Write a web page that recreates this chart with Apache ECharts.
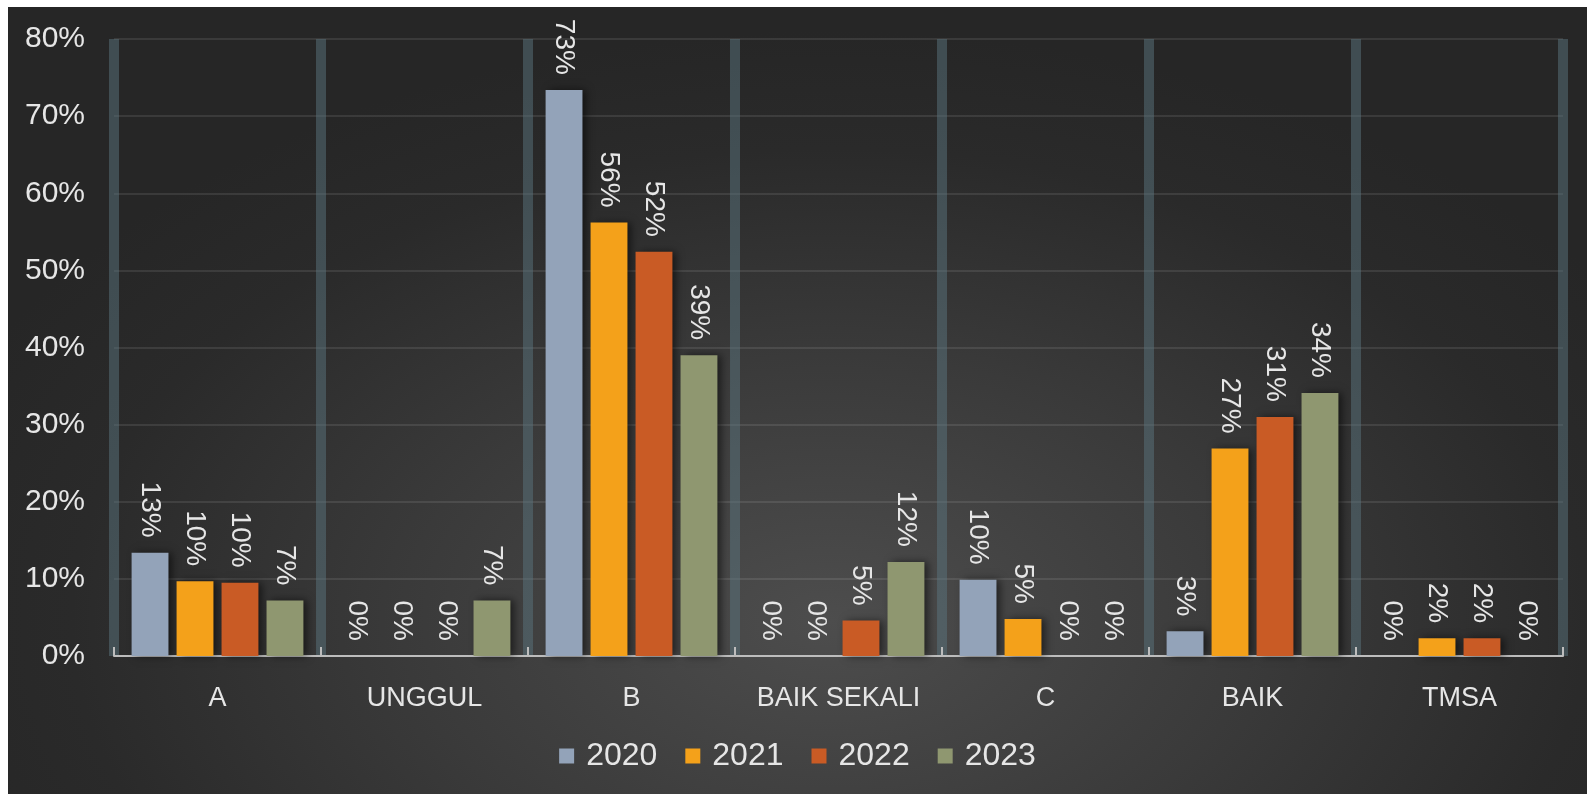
<!DOCTYPE html>
<html>
<head>
<meta charset="utf-8">
<script src="https://cdn.jsdelivr.net/npm/echarts@6/dist/echarts.min.js"></script>
<style>
  html, body { margin: 0; padding: 0; background: #ffffff; width: 1587px; height: 794px; overflow: hidden; }
  #chart {
    position: absolute; left: 8px; top: 7px; width: 1579px; height: 787px;
    background: radial-gradient(ellipse 60% 75% at 52% 78%, #4d4d4d 0%, #3a3a3a 45%, #2a2a2a 80%, #262626 100%);
  }
</style>
</head>
<body>
<div id="chart"></div>
<script>
const categories = ['A', 'UNGGUL', 'B', 'BAIK SEKALI', 'C', 'BAIK', 'TMSA'];
const years = ['2020', '2021', '2022', '2023'];
const values2020 = [13.4, 0, 73.4, 0, 9.9, 3.2, 0];
const values2021 = [9.7, 0, 56.2, 0, 4.8, 26.9, 2.3];
const values2022 = [9.5, 0, 52.4, 4.6, 0, 31.0, 2.3];
const values2023 = [7.2, 7.2, 39.0, 12.2, 0, 34.1, 0];
const yTicks = [0, 10, 20, 30, 40, 50, 60, 70, 80];
const colors = ['#93a3b9', '#f4a11a', '#c95b25', '#8f9770'];

const seriesValues = [values2020, values2021, values2022, values2023];
const FONT = "'Liberation Sans', Arial, sans-serif";

const chart = echarts.init(document.getElementById('chart'), null, { renderer: 'canvas' });
chart.setOption({
  backgroundColor: 'transparent',
  animation: false,
  textStyle: { fontFamily: FONT },
  grid: { left: 106, right: 24, top: 32, bottom: 138, containLabel: false },
  legend: {
    data: years,
    top: 727,
    left: 'center',
    icon: 'rect',
    itemWidth: 15,
    itemHeight: 15,
    itemGap: 28,
    textStyle: { color: '#e6e6e6', fontSize: 32, lineHeight: 34, fontFamily: FONT, padding: [0, 0, 0, 7] }
  },
  xAxis: {
    type: 'category',
    data: categories,
    boundaryGap: true,
    axisLine: { show: true, lineStyle: { color: '#bdbdbd', width: 2 } },
    axisTick: { show: true, interval: 0, inside: true, length: 9, lineStyle: { color: '#bdbdbd', width: 2 } },
    axisLabel: { interval: 0, color: '#e6e6e6', fontSize: 27, margin: 29, fontFamily: FONT },
    splitLine: { show: true, interval: 0, lineStyle: { color: 'rgba(90,115,125,0.5)', width: 10 } }
  },
  yAxis: {
    type: 'value',
    min: yTicks[0],
    max: yTicks[yTicks.length - 1],
    interval: 10,
    axisLine: { show: false },
    axisTick: { show: false },
    axisLabel: { color: '#e6e6e6', fontSize: 30, margin: 29, padding: [4, 0, 0, 0], formatter: v => v + '%', fontFamily: FONT },
    splitLine: { show: true, lineStyle: { color: 'rgba(255,255,255,0.13)', width: 1.5 } }
  },
  series: years.map((y, i) => ({
    name: y,
    type: 'bar',
    data: seriesValues[i],
    barGap: '22%',
    barCategoryGap: '17%',
    itemStyle: {
      color: colors[i],
      shadowColor: 'rgba(0,0,0,0.55)',
      shadowBlur: 8,
      shadowOffsetX: 4,
      shadowOffsetY: 0
    },
    label: {
      show: true,
      position: 'top',
      rotate: -90,
      align: 'right',
      verticalAlign: 'middle',
      distance: 15,
      color: '#e6e6e6',
      fontSize: 28,
      fontFamily: FONT,
      formatter: p => Math.round(p.value) + '%'
    }
  }))
});
</script>
</body>
</html>
